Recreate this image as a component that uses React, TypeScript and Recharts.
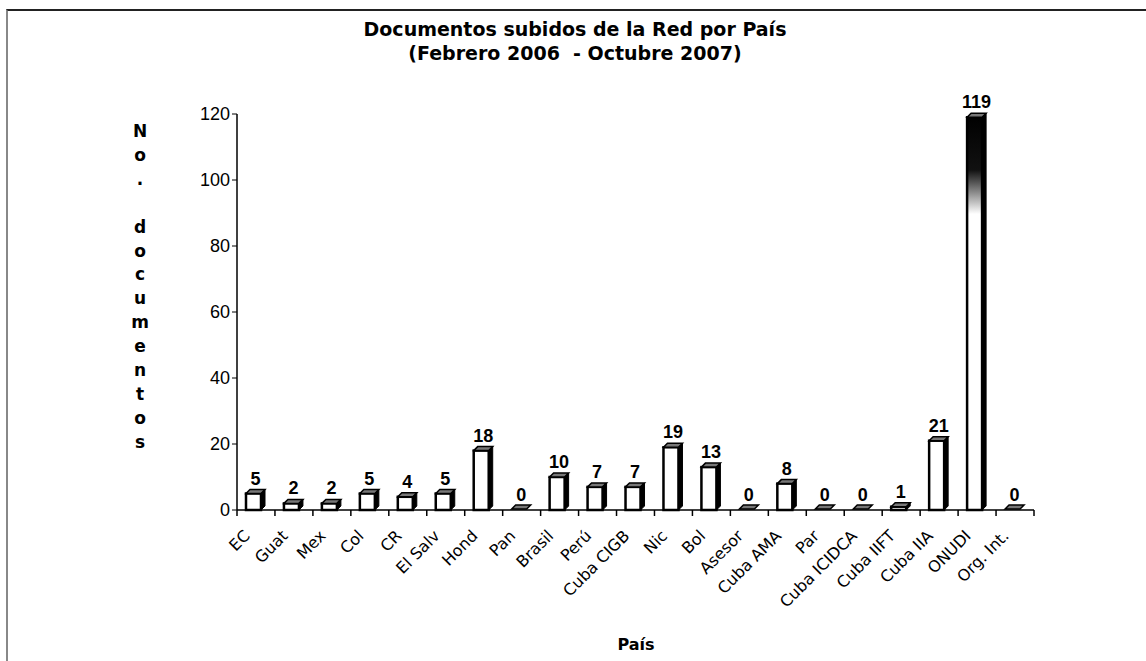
import React from "react";
import { BarChart, Bar, XAxis, YAxis, LabelList } from "recharts";

const paises = [
  "EC", "Guat", "Mex", "Col", "CR", "El Salv", "Hond", "Pan", "Brasil", "Perú", "Cuba CIGB",
  "Nic", "Bol", "Asesor", "Cuba AMA", "Par", "Cuba ICIDCA", "Cuba IIFT", "Cuba IIA", "ONUDI", "Org. Int.",
];
const documentos = [5, 2, 2, 5, 4, 5, 18, 0, 10, 7, 7, 19, 13, 0, 8, 0, 0, 1, 21, 119, 0];
const yTicks = [0, 20, 40, 60, 80, 100, 120];
const yTitle = ["N", "o", ".", "", "d", "o", "c", "u", "m", "e", "n", "t", "o", "s"];

const data = paises.map((pais, i) => ({ pais, documentos: documentos[i] }));

const W = 1146;
const H = 661;
const M = { top: 114, right: 112, bottom: 0, left: 0 };
const Y_AXIS_W = 237;
const X_AXIS_H = 151;
const STEP = (W - Y_AXIS_W - M.right) / paises.length;

const Bar3D = (props: any) => {
  const { x, y, width, height } = props;
  const d = 4;
  const w = width;
  const bottom = y + height;
  const top = Math.min(y, bottom - 1);
  return (
    <g>
      {height > 1 && (
        <rect x={x} y={top} width={w - d} height={bottom - top} fill="url(#barFill)" stroke="#000" strokeWidth={2.5} />
      )}
      <polygon
        points={`${x},${top} ${x + d},${top - d} ${x + w},${top - d} ${x + w - d},${top}`}
        fill="#777"
        stroke="#000"
        strokeWidth={1.5}
      />
      {height > 1 && (
        <polygon
          points={`${x + w - d},${top} ${x + w},${top - d} ${x + w},${bottom - d} ${x + w - d},${bottom}`}
          fill="#000"
          stroke="#000"
          strokeWidth={1}
        />
      )}
    </g>
  );
};

const XTick = (props: any) => {
  const { x, payload, index } = props;
  const axisY = H - X_AXIS_H;
  const lx = x - 9;
  const ly = axisY + 23;
  return (
    <g>
      <line x1={x - STEP / 2} y1={axisY} x2={x - STEP / 2} y2={axisY + 6} stroke="#000" strokeWidth={1.5} />
      {index === paises.length - 1 && (
        <line x1={x + STEP / 2} y1={axisY} x2={x + STEP / 2} y2={axisY + 6} stroke="#000" strokeWidth={1.5} />
      )}
      <text
        x={lx}
        y={ly}
        transform={`rotate(-45, ${lx}, ${ly})`}
        textAnchor="end"
        dominantBaseline="central"
        fontFamily="DejaVu Sans"
        fontSize={16}
        fill="#000"
      >
        {payload.value}
      </text>
    </g>
  );
};

const YTitle = (props: any) => {
  const { viewBox } = props;
  return (
    <text fontFamily="DejaVu Sans" fontWeight="bold" fontSize={17} fill="#000" textAnchor="middle">
      {yTitle.map((ch, i) => (
        <tspan key={i} x={viewBox.x + 140} y={viewBox.y + 23 + i * 23.9}>
          {ch}
        </tspan>
      ))}
    </text>
  );
};

const XTitle = () => (
  <text x={636} y={650} textAnchor="middle" fontFamily="DejaVu Sans" fontWeight="bold" fontSize={16} fill="#000">
    País
  </text>
);

export default function App() {
  return (
    <div
      style={{
        position: "absolute",
        left: 0,
        top: 0,
        width: W,
        height: H,
        background: "#fff",
        overflow: "hidden",
      }}
    >
      <div
        style={{
          position: "absolute",
          left: 6,
          top: 9,
          right: 0,
          bottom: 0,
          borderTop: "2px solid #222",
          borderLeft: "2px solid #888",
        }}
      />
      <div
        style={{
          position: "absolute",
          left: 0,
          top: 17,
          width: 1150,
          textAlign: "center",
          fontFamily: "DejaVu Sans",
          fontWeight: "bold",
          fontSize: 19,
          lineHeight: "24px",
          color: "#000",
        }}
      >
        <div>Documentos subidos de la Red por País</div>
        <div>(Febrero 2006&nbsp; - Octubre 2007)</div>
      </div>
      <div style={{ position: "absolute", left: 0, top: 0 }}>
        <BarChart width={W} height={H} data={data} margin={M} barSize={19}>
          <defs>
            <linearGradient id="barFill" x1="0" y1="114" x2="0" y2="214" gradientUnits="userSpaceOnUse">
              <stop offset="0%" stopColor="#000" />
              <stop offset="56%" stopColor="#111" />
              <stop offset="78%" stopColor="#888" />
              <stop offset="100%" stopColor="#fff" />
            </linearGradient>
          </defs>
          <XAxis
            dataKey="pais"
            interval={0}
            height={X_AXIS_H}
            tickLine={false}
            axisLine={{ stroke: "#000", strokeWidth: 1.5 }}
            tick={<XTick />}
            label={<XTitle />}
          />
          <YAxis
            width={Y_AXIS_W}
            domain={[0, 120]}
            ticks={yTicks}
            interval={0}
            tickSize={5}
            tickLine={{ stroke: "#000" }}
            axisLine={{ stroke: "#000", strokeWidth: 1.5 }}
            tick={{ fill: "#000", fontFamily: "Liberation Sans", fontSize: 18 }}
            label={<YTitle />}
          />
          <Bar dataKey="documentos" shape={<Bar3D />} isAnimationActive={false}>
            <LabelList
              dataKey="documentos"
              position="top"
              offset={9}
              fill="#000"
              fontFamily="Liberation Sans"
              fontWeight="bold"
              fontSize={18}
            />
          </Bar>
        </BarChart>
      </div>
    </div>
  );
}
